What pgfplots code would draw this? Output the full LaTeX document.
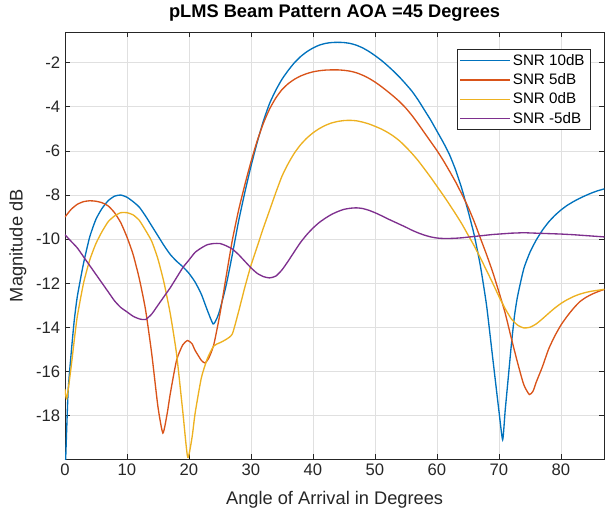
\documentclass[border=0pt]{standalone}
\usepackage{fontspec}
\setmainfont{Liberation Sans}
\usepackage{pgfplots}
\pgfplotsset{compat=1.18}
\definecolor{c1}{rgb}{0,0.447,0.741}
\definecolor{c2}{rgb}{0.85,0.325,0.098}
\definecolor{c3}{rgb}{0.929,0.694,0.125}
\definecolor{c4}{rgb}{0.494,0.184,0.556}
\definecolor{axgray}{rgb}{0.15,0.15,0.15}

\begin{document}
\begin{tikzpicture}
\begin{axis}[
  name=ax, scale only axis,
  width=405pt, height=321pt,
  xmin=0, xmax=87, ymin=-20, ymax=-0.6,
  xtick={0,10,...,80}, ytick={-18,-16,...,-2},
  tick align=inside, major tick length=4pt,
  grid=major, grid style={black!12, line width=0.6pt},
  axis line style={axgray, line width=0.6pt},
  tick style={axgray, line width=0.6pt},
  ticklabel style={font=\fontsize{12.5}{14}\selectfont, text=axgray},
  /pgf/number format/assume math mode=true,
  xlabel={Angle of Arrival in Degrees},
  ylabel={Magnitude dB},
  label style={font=\fontsize{13.7}{16}\selectfont, text=axgray},
  xlabel style={at={(axis description cs:0.5,-0.105)}, anchor=base},
  ylabel style={at={(axis description cs:-0.087,0.5)}, anchor=center},
  title={pLMS Beam Pattern AOA =45 Degrees},
  title style={font=\bfseries\fontsize{13.7}{16}\selectfont, at={(axis description cs:0.5,1.016)}, anchor=base},
  legend style={at={(1,1)}, anchor=north east, xshift=-10.5pt, yshift=-12.75pt,
    font=\fontsize{11.4}{13.5}\selectfont, draw=axgray, line width=0.6pt,
    inner xsep=2pt, inner ysep=1.5pt, row sep=0.8pt},
  legend cell align=left,
  legend image code/.code={\draw[#1, line width=1pt] (0pt,0pt) -- (37pt,0pt);},
  every axis plot/.append style={line width=1pt, smooth, tension=0.35},
]
% SNR 10dB
\addplot[c1] coordinates {
(0,-21) (0.5,-17.0) (1,-15.2) (1.5,-13.7) (2,-12.6) (3,-11.1) (4,-9.9) (5,-9.1)
(6,-8.6) (7,-8.25) (8,-8.05) (9,-8.0) (10,-8.1) (11,-8.3) (12,-8.55) (13,-8.95)
(14,-9.4) (15,-9.85) (16,-10.3) (17,-10.7) (18,-11.0) (19,-11.25) (20,-11.55)
(21,-11.95) (22,-12.5) (23,-13.25) (23.9,-13.85) (24.5,-13.6) (25,-13.2)
(26,-12.1) (27,-10.7) (28,-9.2) (29,-7.9) (30,-6.7) (31,-5.62) (32,-4.65)
(33,-3.85) (34,-3.25) (35,-2.75) (36,-2.35) (37,-2.0) (38,-1.72) (39,-1.5)
(40,-1.33) (41,-1.2) (42,-1.12) (43,-1.08) (44,-1.07) (45,-1.08) (46,-1.12)
(47,-1.2) (48,-1.32) (49,-1.48) (50,-1.67) (51,-1.88) (52,-2.12) (53,-2.38)
(54,-2.66) (55,-2.97) (56,-3.3) (57,-3.7) (58,-4.15) (59,-4.6) (60,-5.1)
(61,-5.6) (62,-6.15) (63,-6.85) (64,-7.7) (65,-8.7) (66,-9.8) (67,-11.2)
(68,-13.0) (69,-15.4) (70,-17.8) (70.6,-19.1) (71,-17.8) (71.5,-16.3)
(72,-14.8) (72.5,-13.5) (73,-12.6) (74,-11.35) (75,-10.6) (76,-10.05)
(77,-9.6) (78,-9.23) (79,-8.93) (80,-8.68) (81,-8.47) (82,-8.3) (83,-8.15)
(84,-8.02) (85,-7.9) (86,-7.8) (87,-7.72)};
\addlegendentry{SNR 10dB}
% SNR 5dB
\addplot[c2] coordinates {
(0,-9.0) (1,-8.65) (2,-8.42) (3,-8.3) (4,-8.26) (5,-8.28) (6,-8.35) (7,-8.5)
(8,-8.8) (9,-9.25) (10,-9.9) (11,-10.7) (12,-11.8) (13,-13.2) (14,-15.2)
(15,-17.6) (15.8,-18.8) (16.5,-17.9) (17,-17.0) (18,-15.5) (19,-14.8)
(19.8,-14.6) (20.5,-14.75) (21,-15.05) (22,-15.5) (22.6,-15.62) (23.2,-15.4)
(24,-14.8) (25,-13.4) (26,-11.7) (27,-10.05) (28,-8.7) (29,-7.55) (30,-6.5)
(31,-5.55) (32,-4.75) (33,-4.1) (34,-3.6) (35,-3.22) (36,-2.95) (37,-2.75)
(38,-2.6) (39,-2.49) (40,-2.41) (41,-2.36) (42,-2.33) (43,-2.32) (44,-2.32)
(45,-2.34) (46,-2.38) (47,-2.45) (48,-2.56) (49,-2.7) (50,-2.87) (51,-3.07)
(52,-3.29) (53,-3.52) (54,-3.77) (55,-4.06) (56,-4.4) (57,-4.78) (58,-5.18)
(59,-5.58) (60,-5.98) (61,-6.42) (62,-6.9) (63,-7.4) (64,-7.95) (65,-8.53)
(66,-9.2) (67,-9.95) (68,-10.7) (69,-11.5) (70,-12.4) (71,-13.35) (72,-14.5)
(73,-15.6) (74,-16.6) (74.9,-17.05) (75.5,-16.9) (76,-16.5) (77,-15.8)
(78,-15.0) (79,-14.4) (80,-13.9) (81,-13.5) (82,-13.15) (83,-12.85)
(84,-12.65) (85,-12.5) (86,-12.38) (87,-12.28)};
\addlegendentry{SNR 5dB}
% SNR 0dB
\addplot[c3] coordinates {
(0,-16.8) (0.3,-17.24) (1,-15.8) (1.5,-14.6) (2,-13.5) (3,-12.0) (4,-10.95)
(5,-10.2) (6,-9.65) (7,-9.2) (8,-8.95) (9,-8.8) (10,-8.8) (11,-8.9) (12,-9.15)
(13,-9.6) (14,-10.1) (15,-10.9) (16,-12.0) (17,-13.4) (18,-15.2) (19,-17.8)
(19.8,-19.9) (20.5,-19.0) (21,-17.9) (22,-16.3) (23,-15.4) (24,-14.85)
(25,-14.7) (26,-14.55) (27,-14.3) (28,-13.3) (29,-12.2) (30,-11.2) (31,-10.35)
(32,-9.5) (33,-8.7) (34,-7.9) (35,-7.15) (36,-6.58) (37,-6.1) (38,-5.72)
(39,-5.42) (40,-5.18) (41,-4.99) (42,-4.84) (43,-4.73) (44,-4.66) (45,-4.62)
(46,-4.61) (47,-4.63) (48,-4.69) (49,-4.77) (50,-4.88) (51,-5.0) (52,-5.15)
(53,-5.33) (54,-5.55) (55,-5.82) (56,-6.12) (57,-6.45) (58,-6.82) (59,-7.2)
(60,-7.6) (61,-8.0) (62,-8.42) (63,-8.85) (64,-9.3) (65,-9.8) (66,-10.3)
(67,-10.85) (68,-11.42) (69,-12.0) (70,-12.6) (71,-13.15) (72,-13.62)
(73,-13.9) (74,-14.03) (75,-14.0) (76,-13.85) (77,-13.62) (78,-13.37)
(79,-13.13) (80,-12.92) (81,-12.75) (82,-12.61) (83,-12.5) (84,-12.42)
(85,-12.36) (86,-12.32) (87,-12.28)};
\addlegendentry{SNR 0dB}
% SNR -5dB
\addplot[c4] coordinates {
(0,-9.8) (1,-10.1) (2,-10.4) (3,-10.8) (4,-11.2) (5,-11.6) (6,-12.0) (7,-12.4)
(8,-12.8) (9,-13.1) (10,-13.3) (11,-13.5) (12,-13.62) (13,-13.65) (14,-13.4)
(15,-13.0) (16,-12.6) (17,-12.2) (18,-11.75) (19,-11.3) (20,-10.95) (21,-10.6)
(22,-10.4) (23,-10.25) (24,-10.2) (25,-10.2) (26,-10.3) (27,-10.45) (28,-10.7)
(29,-11.0) (30,-11.3) (31,-11.55) (32,-11.7) (33,-11.76) (34,-11.68)
(35,-11.4) (36,-11.0) (37,-10.57) (38,-10.15) (39,-9.8) (40,-9.5) (41,-9.25)
(42,-9.05) (43,-8.88) (44,-8.75) (45,-8.65) (46,-8.6) (47,-8.58) (48,-8.61)
(49,-8.69) (50,-8.8) (51,-8.93) (52,-9.07) (53,-9.2) (54,-9.33) (55,-9.46)
(56,-9.6) (57,-9.72) (58,-9.82) (59,-9.9) (60,-9.95) (61,-9.97) (62,-9.97)
(63,-9.96) (64,-9.94) (65,-9.91) (66,-9.88) (67,-9.85) (68,-9.82) (69,-9.79)
(70,-9.77) (71,-9.75) (72,-9.73) (73,-9.72) (74,-9.71) (75,-9.72) (76,-9.73)
(77,-9.74) (78,-9.75) (79,-9.76) (80,-9.77) (82,-9.8) (84,-9.84) (86,-9.88)
(87,-9.9)};
\addlegendentry{SNR -5dB}
\end{axis}
\pgfresetboundingbox
\path[use as bounding box] ([xshift=-48.75pt,yshift=-41.25pt]ax.south west)
  rectangle ([xshift=0.5pt,yshift=24pt]ax.north east);
\end{tikzpicture}
\end{document}
